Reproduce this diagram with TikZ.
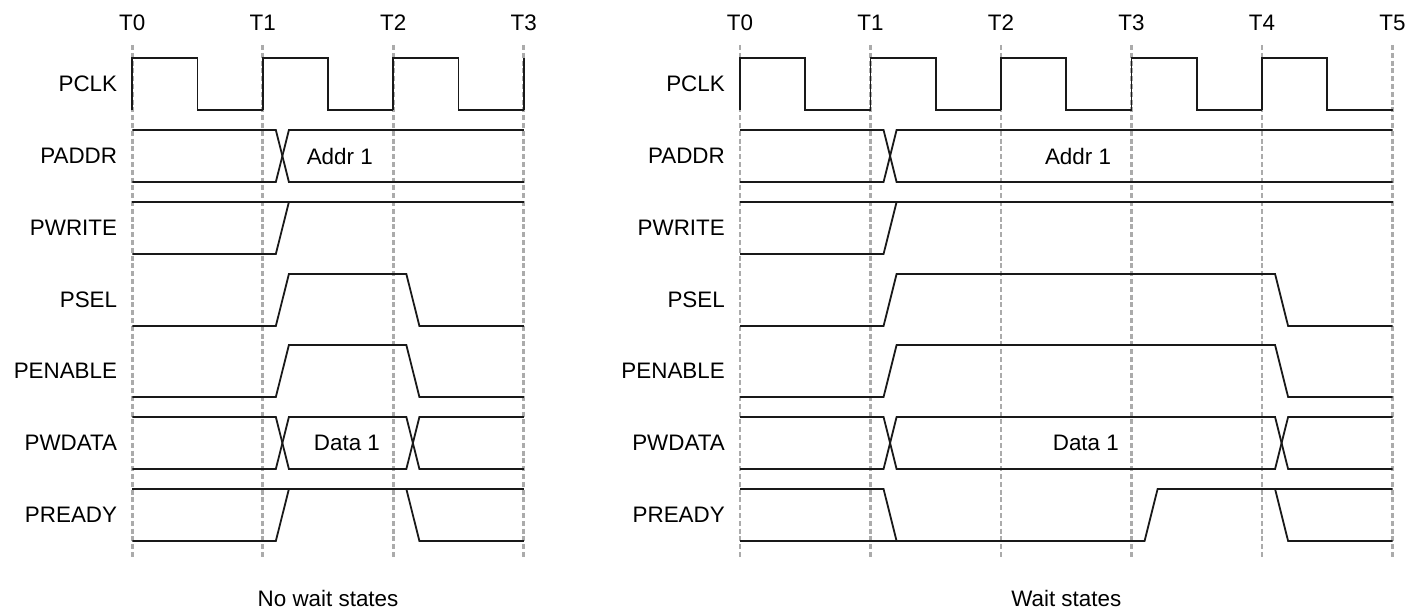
\documentclass[tikz,border=0pt]{standalone}
\usepackage{fontspec}
\setmainfont{Liberation Sans}
\colorlet{gridline}{black!33}
\colorlet{wire}{black!90}
\tikzset{
  wave/.style={line width=1.8pt,draw=wire},
  gridtick/.style={line width=2.9pt,draw=gridline,dash pattern=on 5pt off 2.8pt},
  signame/.style={anchor=east,inner sep=0pt,font=\fontsize{22.4}{27}\selectfont},
  busval/.style={inner sep=0pt,font=\fontsize{22.4}{27}\selectfont},
}

\begin{document}
\begin{tikzpicture}[x=1pt,y=-1pt,
      tname/.style={busval},
      caption/.style={busval},
      ]
      \useasboundingbox (0,0) rectangle (1420,610);
      % no wait states
      \begin{scope}[xshift=132.3pt,x=130.5pt]
        \foreach \t in {0,...,3} {
          \draw [gridtick] (\t,45) -- (\t,558);
          \node [tname] (lt\t) at (\t,22.7) {T\t};
        }
        \node [signame] (lpclk) at (-0.115,84) {PCLK};
        \node [signame] (lpaddr) at (-0.115,156) {PADDR};
        \node [signame] (lpwrite) at (-0.115,228) {PWRITE};
        \node [signame] (lpsel) at (-0.115,300) {PSEL};
        \node [signame] (lpenable) at (-0.115,371) {PENABLE};
        \node [signame] (lpwdata) at (-0.115,443) {PWDATA};
        \node [signame] (lpready) at (-0.115,515) {PREADY};
        \foreach \t in {0,1,2}
          \draw [wave] (\t,110) -- (\t,58) -- (\t+.5,58) -- (\t+.5,110) -- (\t+1,110);
        \draw [wave] (3,110) -- (3,58);
        \draw [wave] (0,130) -- (1.1,130) -- (1.2,182) -- (3,182);
        \draw [wave] (0,182) -- (1.1,182) -- (1.2,130) -- (3,130);
        \node [busval] (laddr) at (1.59,156) {Addr 1};
        \draw [wave] (0,202) -- (3,202);
        \draw [wave] (0,254) -- (1.1,254) -- (1.2,202);
        \draw [wave] (0,326) -- (1.1,326) -- (1.2,274) -- (2.1,274) -- (2.2,326) -- (3,326);
        \draw [wave] (0,397) -- (1.1,397) -- (1.2,345) -- (2.1,345) -- (2.2,397) -- (3,397);
        \draw [wave] (0,417) -- (1.1,417) -- (1.2,469) -- (2.1,469) -- (2.2,417) -- (3,417);
        \draw [wave] (0,469) -- (1.1,469) -- (1.2,417) -- (2.1,417) -- (2.2,469) -- (3,469);
        \node [busval] (ldata) at (1.645,443) {Data 1};
        \draw [wave] (0,489) -- (3,489);
        \draw [wave] (0,541) -- (1.1,541) -- (1.2,489);
        \draw [wave] (2.1,489) -- (2.2,541) -- (3,541);
        \node [caption] (lcap) at (1.5,598) {No wait states};
      \end{scope}
      % wait states
      \begin{scope}[xshift=740pt,x=130.5pt]
        \foreach \t in {0,...,5} {
          \draw [gridtick] (\t,45) -- (\t,558);
          \node [tname] (rt\t) at (\t,22.7) {T\t};
        }
        \node [signame] (rpclk) at (-0.115,84) {PCLK};
        \node [signame] (rpaddr) at (-0.115,156) {PADDR};
        \node [signame] (rpwrite) at (-0.115,228) {PWRITE};
        \node [signame] (rpsel) at (-0.115,300) {PSEL};
        \node [signame] (rpenable) at (-0.115,371) {PENABLE};
        \node [signame] (rpwdata) at (-0.115,443) {PWDATA};
        \node [signame] (rpready) at (-0.115,515) {PREADY};
        \foreach \t in {0,...,4}
          \draw [wave] (\t,110) -- (\t,58) -- (\t+.5,58) -- (\t+.5,110) -- (\t+1,110);
        \draw [wave] (0,130) -- (1.1,130) -- (1.2,182) -- (5,182);
        \draw [wave] (0,182) -- (1.1,182) -- (1.2,130) -- (5,130);
        \node [busval] (raddr) at (2.59,156) {Addr 1};
        \draw [wave] (0,202) -- (5,202);
        \draw [wave] (0,254) -- (1.1,254) -- (1.2,202);
        \draw [wave] (0,326) -- (1.1,326) -- (1.2,274) -- (4.1,274) -- (4.2,326) -- (5,326);
        \draw [wave] (0,397) -- (1.1,397) -- (1.2,345) -- (4.1,345) -- (4.2,397) -- (5,397);
        \draw [wave] (0,417) -- (1.1,417) -- (1.2,469) -- (4.1,469) -- (4.2,417) -- (5,417);
        \draw [wave] (0,469) -- (1.1,469) -- (1.2,417) -- (4.1,417) -- (4.2,469) -- (5,469);
        \node [busval] (rdata) at (2.65,443) {Data 1};
        \draw [wave] (0,489) -- (1.1,489) -- (1.2,541);
        \draw [wave] (0,541) -- (3.1,541) -- (3.2,489) -- (5,489);
        \draw [wave] (4.1,489) -- (4.2,541) -- (5,541);
        \node [caption] (rcap) at (2.5,598) {Wait states};
      \end{scope}
    \end{tikzpicture}
\end{document}
